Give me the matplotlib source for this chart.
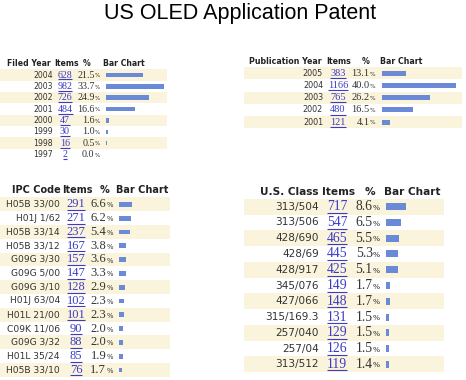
import matplotlib
matplotlib.use('Agg')
import matplotlib.pyplot as plt
from matplotlib.patches import Rectangle

# ---- data ----
filed_years = ['2004', '2003', '2002', '2001', '2000', '1999', '1998', '1997']
filed_items = [628, 982, 726, 484, 47, 30, 16, 2]
filed_pct = [21.5, 33.7, 24.9, 16.6, 1.6, 1.0, 0.5, 0.0]

pub_years = ['2005', '2004', '2003', '2002', '2001']
pub_items = [383, 1166, 765, 480, 121]
pub_pct = [13.1, 40.0, 26.2, 16.5, 4.1]

ipc_codes = ['H05B 33/00', 'H01J 1/62', 'H05B 33/14', 'H05B 33/12', 'G09G 3/30',
             'G09G 5/00', 'G09G 3/10', 'H01J 63/04', 'H01L 21/00', 'C09K 11/06',
             'G09G 3/32', 'H01L 35/24', 'H05B 33/10']
ipc_items = [291, 271, 237, 167, 157, 147, 128, 102, 101, 90, 88, 85, 76]
ipc_pct = [6.6, 6.2, 5.4, 3.8, 3.6, 3.3, 2.9, 2.3, 2.3, 2.0, 2.0, 1.9, 1.7]

us_classes = ['313/504', '313/506', '428/690', '428/69', '428/917', '345/076',
              '427/066', '315/169.3', '257/040', '257/04', '313/512']
us_items = [717, 547, 465, 445, 425, 149, 148, 131, 129, 126, 119]
us_pct = [8.6, 6.5, 5.5, 5.3, 5.1, 1.7, 1.7, 1.5, 1.5, 1.5, 1.4]

W, H = 466, 380
SHADE = '#fbf4dc'
BAR = '#6a8ad8'
LINK = '#3b3bc4'
TXT = '#333333'

fig = plt.figure(figsize=(W / 100, H / 100), dpi=100)
ax = fig.add_axes([0, 0, 1, 1])
ax.set_xlim(0, W)
ax.set_ylim(H, 0)
ax.axis('off')

ax.text(240, 14, 'US OLED Application Patent', ha='center', va='center',
        fontsize=15.5, family='Liberation Sans', color='black')

underlines = []


def draw_table(headers, labels, items, pct, lay):
    n = len(labels)
    y0, dy = lay['row0'], lay['dy']
    fs_h, fs_r, fs_n = lay['fs_head'], lay['fs_row'], lay['fs_num']
    # header
    hx = lay['head_x']
    for k, h in enumerate(headers):
        ha = 'center' if h == '%' else 'left'
        ax.text(hx[k], lay['head_y'], h, ha=ha, va='center', fontsize=fs_h,
                fontweight='bold', color='#222222', family='DejaVu Sans')
    # shaded rows
    for i in range(0, n, 2):
        ax.add_patch(Rectangle((lay['shade'][0], y0 + i * dy - dy / 2),
                               lay['shade'][1] - lay['shade'][0], dy,
                               facecolor=SHADE, edgecolor='none', zorder=0))
    for i in range(n):
        y = y0 + i * dy
        ax.text(lay['label_x'], y, labels[i], ha='right', va='center',
                fontsize=fs_r, color=TXT, family='DejaVu Sans')
        t = ax.text(lay['item_x'], y, str(items[i]), ha='center', va='center',
                    fontsize=fs_n, color=LINK, family='Liberation Serif')
        underlines.append((t, y + fs_n * 0.62))
        ax.text(lay['pct_x'] - fs_n * 0.75, y, f'{pct[i]:.1f}', ha='right',
                va='center', fontsize=fs_n, color=TXT, family='Liberation Serif')
        ax.text(lay['pct_x'], y + fs_n * 0.12, '%', ha='right', va='center',
                fontsize=fs_n * 0.55, color=TXT, family='DejaVu Sans')
    # bar column on its own axes, scaled in percent
    top = y0 - dy / 2
    bottom = y0 + (n - 0.5) * dy
    bw = lay['bar_w']
    bax = fig.add_axes([lay['bar_x'] / W, 1 - bottom / H, bw / W, (bottom - top) / H])
    bax.barh(range(n), pct, height=lay['bar_h'] / dy, color=BAR, left=0)
    bax.set_xlim(0, bw / lay['px_per_pct'])
    bax.set_ylim(n - 0.5, -0.5)
    bax.axis('off')
    bax.patch.set_alpha(0)


draw_table(['Filed Year', 'Items', '%', 'Bar Chart'], filed_years, filed_items, filed_pct,
           dict(head_y=63, row0=75, dy=11.35, shade=(0, 167), label_x=53, item_x=65,
                pct_x=100, bar_x=106, bar_w=60, px_per_pct=58 / 33.7, bar_h=4.5,
                head_x=[7, 54, 87, 103], fs_head=5.6, fs_row=5.6, fs_num=7.2))

draw_table(['Publication Year', 'Items', '%', 'Bar Chart'], pub_years, pub_items, pub_pct,
           dict(head_y=62, row0=73.3, dy=12.2, shade=(244, 462), label_x=323, item_x=338,
                pct_x=375, bar_x=382, bar_w=78, px_per_pct=74 / 40.0, bar_h=5,
                head_x=[249, 326, 366, 380], fs_head=5.7, fs_row=5.8, fs_num=7.5))

draw_table(['IPC Code', 'Items', '%', 'Bar Chart'], ipc_codes, ipc_items, ipc_pct,
           dict(head_y=190, row0=204.3, dy=13.8, shade=(0, 170), label_x=60, item_x=76,
                pct_x=113, bar_x=119, bar_w=40, px_per_pct=13 / 6.6, bar_h=4.8,
                head_x=[12, 62, 104, 116], fs_head=7.0, fs_row=6.6, fs_num=9.0))

draw_table(['U.S. Class', 'Items', '%', 'Bar Chart'], us_classes, us_items, us_pct,
           dict(head_y=192, row0=206.7, dy=15.76, shade=(244, 444), label_x=319, item_x=337,
                pct_x=380, bar_x=386, bar_w=50, px_per_pct=20 / 8.6, bar_h=7,
                head_x=[260, 322, 370, 384], fs_head=7.6, fs_row=7.6, fs_num=9.8))

# underline the item counts like links
fig.canvas.draw()
renderer = fig.canvas.get_renderer()
inv = ax.transData.inverted()
for t, yl in underlines:
    bb = t.get_window_extent(renderer)
    (x0, _), (x1, _) = inv.transform([(bb.x0, bb.y0), (bb.x1, bb.y1)])
    ax.plot([x0, x1], [yl, yl], color=LINK, lw=0.8, solid_capstyle='butt')

fig.savefig('out.png', dpi=100)
